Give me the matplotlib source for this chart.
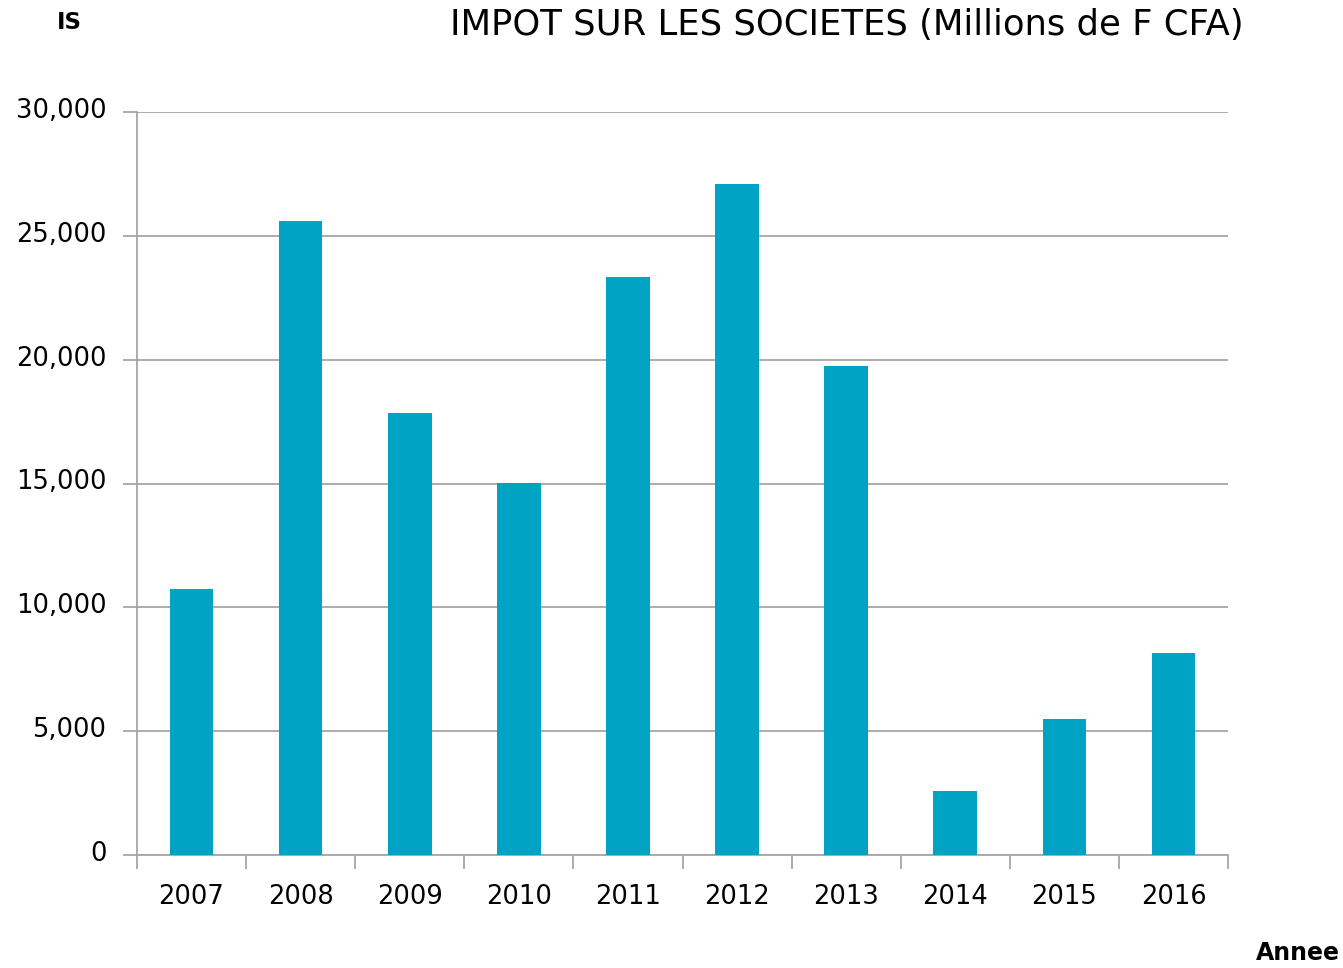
import matplotlib
matplotlib.use("Agg")
import matplotlib.pyplot as plt
from matplotlib.ticker import FuncFormatter
from matplotlib.transforms import ScaledTranslation
import numpy as np

years = ["2007", "2008", "2009", "2010", "2011", "2012", "2013", "2014", "2015", "2016"]
impot = [10740, 25600, 17850, 15020, 23340, 27090, 19740, 2580, 5490, 8160]

plt.rcParams['font.family'] = ['DejaVu Sans']

fig = plt.figure(figsize=(13.43, 9.68), dpi=100)
ax = fig.add_axes([0.102, 0.1167, 0.8124, 0.7676])

x = np.arange(len(years))
ax.bar(x, impot, width=0.4, color="#00A3C4", zorder=3)

ax.set_xlim(-0.5, len(years) - 0.5)
ax.set_ylim(0, 30000)
ax.set_yticks(range(0, 30001, 5000))
ax.yaxis.set_major_formatter(FuncFormatter(lambda v, p: f"{int(v):,}"))
ax.grid(axis="y", color="#A6A6A6", linewidth=1.3, zorder=0)

# x ticks at category boundaries, labels centred
ax.set_xticks(np.arange(-0.5, len(years), 1))
ax.set_xticklabels([])
ax.set_xticks(x, minor=True)
ax.set_xticklabels(years, minor=True)
ax.tick_params(axis="x", which="major", length=10, width=1.3, color="#A6A6A6")
ax.tick_params(axis="x", which="minor", length=0, pad=21, labelsize=18.5)
ax.tick_params(axis="y", length=10, width=1.3, color="#A6A6A6", labelsize=18.5, pad=12)
shift = ScaledTranslation(0, 3 / 72, fig.dpi_scale_trans)
for lbl in ax.get_yticklabels():
    lbl.set_transform(lbl.get_transform() + shift)

for s in ["top", "right"]:
    ax.spines[s].set_visible(False)
for s in ["left", "bottom"]:
    ax.spines[s].set_color("#A6A6A6")
    ax.spines[s].set_linewidth(1.3)

fig.text(0.042, 0.977, "IS", fontsize=16.5, fontweight="bold", va="center", ha="left")
fig.text(0.926, 0.974, "IMPOT SUR LES SOCIETES (Millions de F CFA)", fontsize=25.5,
         va="center", ha="right")
fig.text(0.998, 0.015, "Annee", fontsize=17, fontweight="bold", va="center", ha="right")

fig.savefig("out.png", dpi=100)
